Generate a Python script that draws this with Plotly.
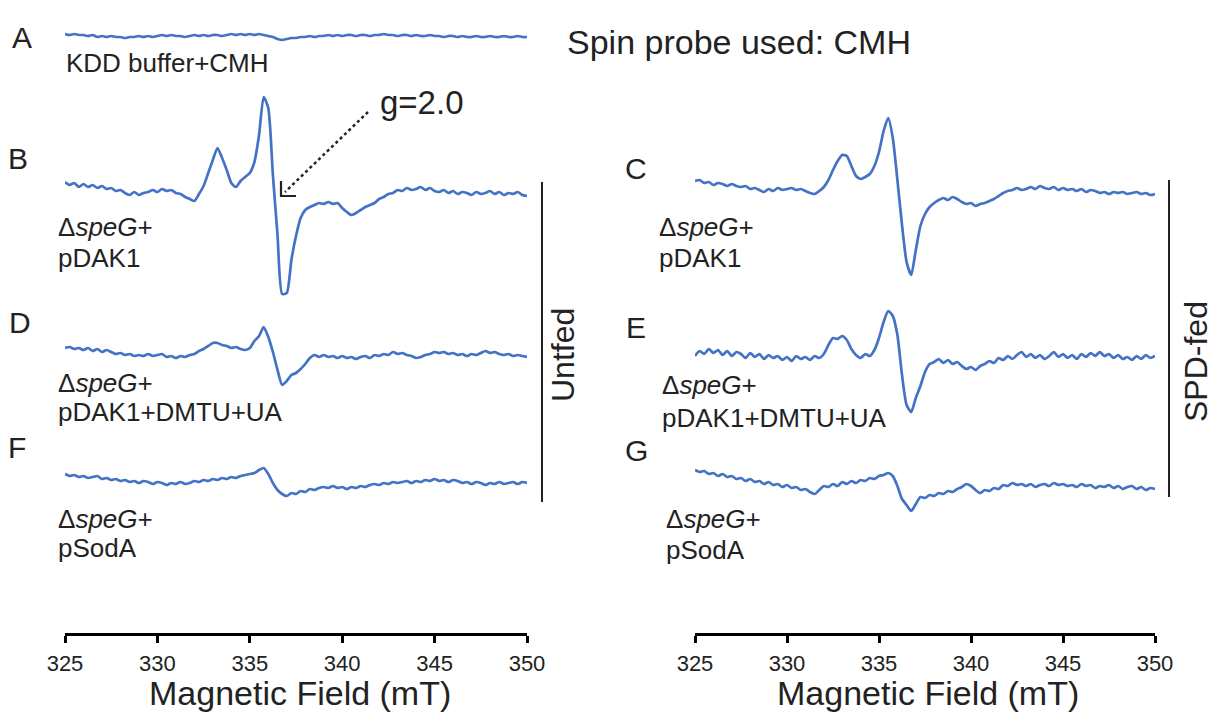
import plotly.graph_objects as go

# ---------------- data (EPR spectra, arbitrary intensity units) ----------------
field_mT = [325 + 0.25 * i for i in range(101)]
tick_vals = [325, 330, 335, 340, 345, 350]

kdd_buffer = [2, 1, 2, 1, 1, 0, 1, -1, 0, -1,
              0, -1, -1, -2, -1, -1, 0, -1, 0, -1,
              0, 1, 0, 1, 0, 0, -1, 0, 1, 0,
              1, 0, 1, 1, 0, 1, 2, 1, 2, 1,
              2, 1, 2, 1, 0, -1, -3, -4, -3, -2,
              -2, -1, -1, 0, -1, 0, 0, 1, 0, 1,
              0, 1, 1, 0, 1, 1, 0, 1, 1, 2,
              1, 1, 0, 1, 1, 0, 1, 0, 0, 1,
              0, 0, -1, 0, 0, -1, 0, -1, -1, 0,
              -1, -1, 0, -1, -1, 0, -1, -1, 0, -1,
              -1]

untfed_pdak1 = [8, 5, 7, 3, 6, 3, 5, 2, 4, 1,
                2, -1, 0, -3, -5, -2, -5, -3, -2, 0,
                -2, 1, -1, 0, -3, -4, -7, -9, -11, -4,
                4, 17, 30, 42, 32, 20, 7, 3, 9, 13,
                17, 28, 55, 93, 82, 15, -45, -104, -103, -70,
                -46, -28, -20, -17, -15, -13, -14, -12, -14, -13,
                -18, -22, -25, -23, -20, -17, -15, -13, -9, -7,
                -4, -3, 0, -1, 2, 0, 1, 3, 0, 2,
                -1, -2, 0, -3, -1, -4, -2, -3, -5, -2,
                -4, -3, -1, -4, -2, -5, -3, -4, -2, -5,
                -6]

untfed_dmtu_ua = [2, 3, 1, 2, 0, 2, -1, 1, -2, 0,
                  -2, -4, -3, -5, -4, -6, -5, -6, -4, -6,
                  -5, -4, -7, -6, -8, -6, -7, -5, -4, -1,
                  1, 4, 7, 7, 5, 4, 2, 3, 1, 0,
                  2, 9, 14, 23, 13, -2, -20, -35, -31, -25,
                  -23, -19, -14, -8, -5, -7, -5, -7, -6, -8,
                  -6, -8, -7, -9, -7, -6, -8, -5, -6, -4,
                  -5, -2, -4, -3, -5, -6, -8, -7, -5, -4,
                  -2, -3, -2, -4, -3, -5, -4, -6, -4, -5,
                  -3, -1, -3, -2, -4, -5, -4, -6, -5, -6,
                  -7]

untfed_psoda = [6, 4, 5, 3, 4, 2, 3, 4, 1, 2,
                0, 1, -1, 0, -2, -1, -3, -1, -2, -4,
                -2, -3, -5, -3, -4, -2, -4, -3, -1, -2,
                0, -1, 1, 0, 2, 1, 3, 2, 4, 5,
                6, 7, 10, 12, 6, -3, -10, -14, -16, -13,
                -14, -11, -12, -9, -10, -8, -7, -8, -6, -8,
                -7, -9, -7, -8, -6, -7, -5, -4, -5, -3,
                -4, -2, -3, -2, -1, -3, -1, -2, 0, -1,
                1, -1, 0, -2, 0, -1, -3, -2, -4, -2,
                -3, -5, -3, -4, -2, -4, -3, -2, -4, -2,
                -3]

spd_pdak1 = [4, 5, 2, 3, 0, 2, 1, -1, 1, -1,
             -2, -1, -4, -3, -5, -7, -4, -6, -3, -5,
             -4, -3, -5, -4, -6, -8, -9, -6, -2, 5,
             15, 24, 30, 29, 19, 9, 6, 8, 11, 19,
             33, 54, 67, 47, 5, -40, -77, -90, -65, -41,
             -29, -22, -18, -15, -13, -15, -12, -14, -17, -19,
             -18, -21, -19, -18, -16, -14, -11, -8, -6, -5,
             -3, -5, -4, -2, -4, -1, -3, -4, -2, -5,
             -3, -5, -4, -6, -4, -7, -5, -6, -8, -7,
             -9, -7, -8, -7, -9, -8, -7, -9, -8, -10,
             -9]

spd_dmtu_ua = [-1, 4, 1, 6, 2, 5, 0, 4, -1, 3,
               1, -3, 2, -2, 1, -4, 0, -3, -1, -5,
               -2, -6, -1, -4, -2, -5, -1, -3, 1, 10,
               17, 16, 19, 15, 6, 0, -3, 1, -1, 5,
               17, 33, 44, 39, 20, -20, -50, -57, -43, -31,
               -17, -9, -7, -4, -8, -5, -9, -7, -11, -14,
               -12, -15, -11, -9, -6, -8, -3, -5, -1, -4,
               0, 3, -2, 1, -3, 0, -4, -1, 3, -2,
               1, -3, 0, -4, 1, -2, 2, -1, 3, -1,
               1, -3, 0, -4, -2, -5, -1, -4, 0, -3,
               -1]

spd_psoda = [10, 8, 9, 6, 7, 4, 6, 3, 4, 1,
             2, -1, 1, -2, -1, -4, -2, -5, -4, -7,
             -5, -8, -7, -10, -9, -12, -14, -10, -6, -7,
             -4, -6, -2, -4, -1, -3, 0, -1, 2, 1,
             4, 5, 7, 4, -6, -19, -25, -31, -24, -17,
             -18, -15, -16, -13, -14, -11, -12, -9, -7, -4,
             -6, -10, -13, -10, -11, -8, -9, -5, -6, -3,
             -5, -4, -6, -4, -7, -5, -4, -6, -3, -5,
             -4, -6, -5, -7, -4, -6, -5, -8, -6, -7,
             -5, -8, -6, -9, -7, -6, -9, -7, -10, -8,
             -9]

# ---------------- layout parameters ----------------
OFF = 8                              # page body margin offset
W, H = 1216 - OFF, 712 - OFF
AXIS_ROW = 633                       # target pixel row of the x-axis line
PLOT_H = AXIS_ROW - OFF
YDOM0 = 1 - PLOT_H / H
BLUE = "#4472c4"
INK = "#222222"
FONT = "Liberation Sans, Arial, sans-serif"

# (series, panel, target baseline row)
traces = [
    (kdd_buffer, 1, 36),
    (untfed_pdak1, 1, 190),
    (untfed_dmtu_ua, 1, 350),
    (untfed_psoda, 1, 480),
    (spd_pdak1, 2, 185),
    (spd_dmtu_ua, 2, 355),
    (spd_psoda, 2, 480),
]

fig = go.Figure()
for series, panel, base_row in traces:
    off = AXIS_ROW - base_row
    fig.add_trace(go.Scatter(
        x=field_mT, y=[v + off for v in series],
        mode="lines", line=dict(color=BLUE, width=2.7, shape="spline", smoothing=0.6),
        xaxis="x" if panel == 1 else "x2",
        yaxis="y" if panel == 1 else "y2",
        showlegend=False, hoverinfo="skip"))


def px(x):
    return (x - OFF) / W


def py(y):
    return 1 - (y - OFF) / H


xaxis_common = dict(
    range=[325, 350], tickvals=tick_vals, showline=True, linecolor="black",
    linewidth=2.5, ticks="outside", ticklen=7, tickwidth=2.5, tickcolor="black",
    showgrid=False, zeroline=False, automargin=False,
    tickfont=dict(family=FONT, size=22, color=INK), ticklabelstandoff=2,
)
yaxis_common = dict(range=[0, PLOT_H], domain=[YDOM0, 1], visible=False,
                    fixedrange=True, automargin=False)

fig.update_layout(
    template="none",
    width=W, height=H, autosize=False,
    margin=dict(l=0, r=0, t=0, b=0, pad=0, autoexpand=False),
    paper_bgcolor="white", plot_bgcolor="white",
    xaxis=dict(domain=[px(65), px(527)], anchor="y", **xaxis_common),
    xaxis2=dict(domain=[px(695), px(1155)], anchor="y2", **xaxis_common),
    yaxis=dict(anchor="x", **yaxis_common),
    yaxis2=dict(anchor="x2", **yaxis_common),
)

ann = []


def text(x, y, s, size, anchor="left", angle=0):
    ann.append(dict(x=px(x), y=py(y), xref="paper", yref="paper", text=s,
                    showarrow=False, xanchor=anchor, yanchor="middle",
                    textangle=angle, font=dict(family=FONT, size=size, color=INK)))


LBL = 26
for letter, x, y in [("A", 22, 38), ("B", 18, 158), ("D", 20, 322), ("F", 17, 447),
                     ("C", 636, 168), ("E", 636, 327), ("G", 636, 450)]:
    text(x, y, letter, 30, anchor="center")

text(565, 42, "Spin probe used: CMH", 34)
text(64, 63, "KDD buffer+CMH", LBL)
text(378, 102, "g=2.0", 33)

text(56, 227, "Δ<i>speG</i>+", LBL)
text(56, 258, "pDAK1", LBL)
text(56, 383, "Δ<i>speG</i>+", LBL)
text(56, 412, "pDAK1+DMTU+UA", LBL)
text(56, 519, "Δ<i>speG</i>+", LBL)
text(56, 548, "pSodA", LBL)

text(657, 227, "Δ<i>speG</i>+", LBL)
text(657, 258, "pDAK1", LBL)
text(660, 385, "Δ<i>speG</i>+", LBL)
text(660, 418, "pDAK1+DMTU+UA", LBL)
text(664, 519, "Δ<i>speG</i>+", LBL)
text(664, 550, "pSodA", LBL)

text(563, 355, "Untfed", 32, anchor="center", angle=-90)
text(1196, 362, "SPD-fed", 32, anchor="center", angle=-90)

text(300, 693, "Magnetic Field (mT)", 34, anchor="center")
text(928, 693, "Magnetic Field (mT)", 34, anchor="center")

fig.update_layout(annotations=ann)

shapes = [
    dict(type="line", xref="paper", yref="paper", x0=px(542), x1=px(542),
         y0=py(182), y1=py(502), line=dict(color=INK, width=2)),
    dict(type="line", xref="paper", yref="paper", x0=px(1169), x1=px(1169),
         y0=py(180), y1=py(497), line=dict(color=INK, width=2)),
    dict(type="line", xref="paper", yref="paper", x0=px(368), y0=py(112),
         x1=px(285), y1=py(192), line=dict(color=INK, width=2.5, dash="dot")),
    dict(type="path", xref="paper", yref="paper",
         path=f"M {px(281)},{py(181)} L {px(281)},{py(196)} L {px(296)},{py(196)}",
         line=dict(color=INK, width=2.2)),
]
fig.update_layout(shapes=shapes)

fig.write_html("out.html")
